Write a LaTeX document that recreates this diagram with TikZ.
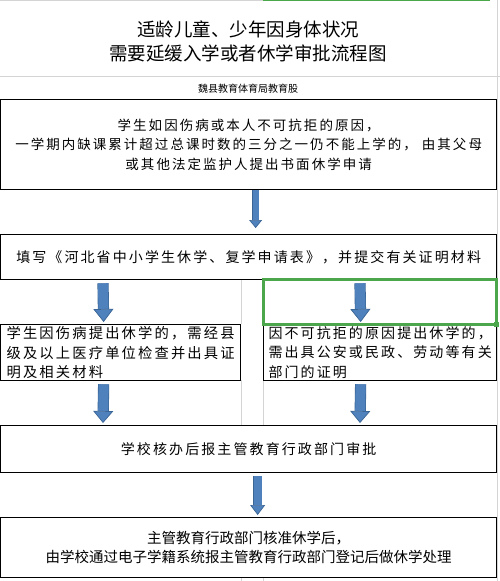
\documentclass[tikz,border=0pt]{standalone}
\usepackage{fontspec}
\newfontfamily\cjk{Noto Sans CJK SC}
\usetikzlibrary{arrows.meta}
\definecolor{SheetGrid}{HTML}{D4D4D4}
\definecolor{SheetGreen}{HTML}{4CA64C}
\definecolor{ArrowBlue}{HTML}{4F81BD}
\definecolor{ArrowEdge}{HTML}{3A6595}

\begin{document}
\begin{tikzpicture}[x=1pt, y=-1pt,
  cell/.style={draw=black, line width=1.3pt, anchor=north west, inner sep=0pt, align=center},
  heading/.style={font=\cjk\fontsize{18.5}{24}\selectfont, align=center},
  wide/.style={font=\cjk\fontsize{#1}{19.5}\selectfont\addfontfeature{LetterSpace=15}},
  blockarrow/.style n args={3}{line width=#1, draw=ArrowBlue,
    -{Triangle[length=#3, width=#2, fill=ArrowBlue, color=ArrowEdge, line width=0.7pt]},
    preaction={draw=ArrowEdge, line width=#1+1.2pt, -, shorten >=#3}}
]
\fill[white] (0,0) rectangle (500,581);
\useasboundingbox (0,0) rectangle (500,581);

% sheet grid
\draw[SheetGrid] (0,0.5) -- (263,0.5);
\draw[SheetGreen, line width=1.5pt] (263,0.7) -- (490,0.7);
\draw[SheetGrid] (0,76) -- (500,76);
\draw[SheetGrid] (497.5,0) -- (497.5,581);
\foreach \gx in {241,263} {
  \draw[SheetGrid] (\gx,279) -- (\gx,324);
  \draw[SheetGrid] (\gx,380) -- (\gx,425);
  \draw[SheetGrid] (\gx,577) -- (\gx,581);
}

\node[heading] (title) at (248,41) {适龄儿童、少年因身体状况\\需要延缓入学或者休学审批流程图};
\node[font=\cjk\fontsize{10}{12}\selectfont] (office) at (248,89) {魏县教育体育局教育股};

\node[cell, wide=13.5, minimum width=496pt, minimum height=90pt] (apply) at (0,99)
  {学生如因伤病或本人不可抗拒的原因，\\一学期内缺课累计超过总课时数的三分之一仍不能上学的， 由其父母\\或其他法定监护人提出书面休学申请};
\node[cell, wide=14, minimum width=496pt, minimum height=45pt] (form) at (0,234)
  {填写《河北省中小学生休学、复学申请表》，并提交有关证明材料};
\node[cell, wide=14.3, align=left, minimum width=240pt, minimum height=56pt] (illness) at (0,324)
  {学生因伤病提出休学的，需经县\\级及以上医疗单位检查并出具证\\明及相关材料};
\node[cell, wide=14, align=left, minimum width=233pt, minimum height=56pt] (force) at (263,324)
  {因不可抗拒的原因提出休学的，\\需出具公安或民政、劳动等有关\\部门的证明};
\node[cell, wide=14, minimum width=496pt, minimum height=47pt] (approve) at (0,425)
  {学校核办后报主管教育行政部门审批};
\node[cell, font=\cjk\fontsize{14.5}{19}\selectfont, minimum width=496pt, minimum height=60pt] (record) at (0,517)
  {主管教育行政部门核准休学后，\\由学校通过电子学籍系统报主管教育行政部门登记后做休学处理};

% selected cell
\draw[SheetGreen, line width=3pt] (263,279) rectangle (496,324);
\fill[SheetGreen] (493.5,321.5) rectangle (499,327);

\draw[blockarrow={6pt}{13pt}{8pt}] ([xshift=7pt]apply.south) -- ([xshift=7pt,yshift=6pt]form.north);
\draw[blockarrow={10pt}{20pt}{13pt}] ([xshift=103pt,yshift=-3pt]form.south west) -- ([xshift=-17pt,yshift=2pt]illness.north);
\draw[blockarrow={10pt}{20pt}{13pt}] ([xshift=360pt,yshift=-3pt]form.south west) -- ([xshift=-19.5pt,yshift=2pt]force.north);
\draw[blockarrow={10pt}{20pt}{12pt}] ([xshift=-17pt,yshift=-3pt]illness.south) -- ([xshift=103pt,yshift=2pt]approve.north west);
\draw[blockarrow={10pt}{20pt}{12pt}] ([xshift=-19.5pt,yshift=-3pt]force.south) -- ([xshift=360pt,yshift=2pt]approve.north west);
\draw[blockarrow={8pt}{15pt}{10pt}] ([xshift=9pt,yshift=-3pt]approve.south) -- ([xshift=9pt,yshift=2pt]record.north);
\end{tikzpicture}
\end{document}
